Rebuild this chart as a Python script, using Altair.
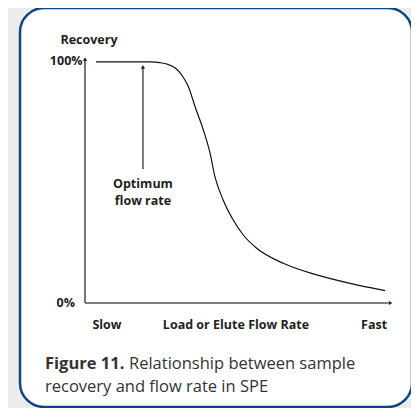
import altair as alt
import pandas as pd

# Curve (x: flow rate 0-100 slow->fast, y: recovery %)
curve_x = [3.6, 21.3, 24.6, 27.2, 29.8, 32.1, 33.9, 36.1, 38.8, 41.0, 42.6, 45.3, 48.6, 51.9, 56.3, 65.0, 76.0, 86.9, 98.4]
curve_y = [99.6, 99.6, 99.3, 98.6, 96.9, 93.5, 89.4, 81.1, 71.5, 61.9, 52.2, 42.6, 34.3, 28.1, 22.6, 16.4, 11.6, 8.1, 5.1]

y_tick_labels = ["100%", "0%"]
y_tick_values = [100, 0]
x_labels = ["Slow", "Load or Elute Flow Rate", "Fast"]
x_label_pos = [7.2, 49.5, 94.8]
optimum_x = 19.0
caption_bold = "Figure 11."
caption_rest = ["Relationship between sample", "recovery and flow rate in SPE"]

W, H = 403, 400
xs = alt.Scale(domain=[0, 100], range=[77, 382])
ys = alt.Scale(domain=[0, 100], range=[295, 53])
AX = "#555555"
TXT = "#231f20"
FONT = "Open Sans"

def X(field="x"):
    return alt.X(f"{field}:Q", scale=xs, axis=None)

def Y(field="y"):
    return alt.Y(f"{field}:Q", scale=ys, axis=None)

card = alt.Chart(pd.DataFrame({"a": [0]})).mark_rect(
    cornerRadius=24, fill="white", stroke="#0e4682", strokeWidth=2.5
).encode(x=alt.value(12), x2=alt.value(404), y=alt.value(0), y2=alt.value(399))

curve = alt.Chart(pd.DataFrame({"x": curve_x, "y": curve_y})).mark_line(
    color="#111111", strokeWidth=1.2, interpolate="monotone"
).encode(x=X(), y=Y())

# axes
yaxis = alt.Chart(pd.DataFrame({"x": [0], "y": [0], "y2": [100.5]})).mark_rule(
    color=AX, strokeWidth=1.6
).encode(x=X(), y=Y(), y2="y2:Q")
xaxis = alt.Chart(pd.DataFrame({"x": [0], "x2": [99.5], "y": [0]})).mark_rule(
    color=AX, strokeWidth=1.6
).encode(x=X(), x2="x2:Q", y=Y())
up_heads = alt.Chart(pd.DataFrame({"x": [0, optimum_x], "y": [100.8, 97.6]})).mark_point(
    shape="triangle-up", filled=True, color="#222222", size=18, opacity=1
).encode(x=X(), y=Y())
right_head = alt.Chart(pd.DataFrame({"x": [100.2], "y": [0]})).mark_point(
    shape="triangle-right", filled=True, color="#222222", size=18, opacity=1
).encode(x=X(), y=Y())

optimum = alt.Chart(pd.DataFrame({"x": [optimum_x], "y": [55.4], "y2": [97.5]})).mark_rule(
    color="#222222", strokeWidth=1.2
).encode(x=X(), y=Y(), y2="y2:Q")

LBL = dict(font=FONT, fontWeight="bold", fontSize=12.5, color=TXT, baseline="middle")

ylabels = alt.Chart(pd.DataFrame({"x": [-0.8, -3.3], "y": y_tick_values, "t": y_tick_labels})).mark_text(
    align="right", **LBL
).encode(x=X(), y=Y(), text="t:N")

recovery = alt.Chart(pd.DataFrame({"x": [1.3], "y": [108.7], "t": ["Recovery"]})).mark_text(
    align="center", **LBL
).encode(x=X(), y=Y(), text="t:N")

xlabels = alt.Chart(pd.DataFrame({"x": x_label_pos, "y": [-9.1] * 3, "t": x_labels})).mark_text(
    align="center", **LBL
).encode(x=X(), y=Y(), text="t:N")

opt_text = alt.Chart(pd.DataFrame({"x": [optimum_x] * 2, "y": [49.2, 42.1], "t": ["Optimum", "flow rate"]})).mark_text(
    align="center", **LBL
).encode(x=X(), y=Y(), text="t:N")

CAP = dict(baseline="middle", font=FONT, fontSize=16.5, color="#333333", align="left")
cap1 = alt.Chart(pd.DataFrame({"t": [caption_bold]})).mark_text(
    fontWeight="bold", **CAP
).encode(x=alt.value(37), y=alt.value(356), text="t:N")
cap2 = alt.Chart(pd.DataFrame({"t": [caption_rest[0]]})).mark_text(
    **CAP
).encode(x=alt.value(121), y=alt.value(356), text="t:N")
cap3 = alt.Chart(pd.DataFrame({"t": [caption_rest[1]]})).mark_text(
    **CAP
).encode(x=alt.value(37), y=alt.value(379), text="t:N")

chart = alt.layer(
    card, yaxis, xaxis, optimum, curve, up_heads, right_head,
    ylabels, recovery, xlabels, opt_text, cap1, cap2, cap3
).properties(
    width=W, height=H, autosize="none", padding=0, background="#ececec"
).configure_view(stroke=None)

chart.save("out.html", embed_options={"renderer": "svg", "actions": False})
